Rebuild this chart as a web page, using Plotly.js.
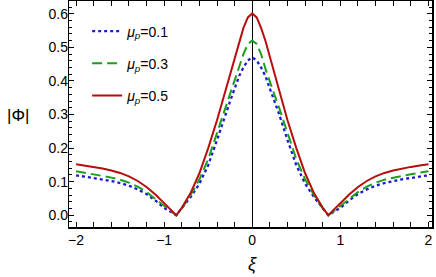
<!DOCTYPE html>
<html>
<head>
<meta charset="utf-8">
<script src="https://cdn.plot.ly/plotly-3.0.1.min.js"></script>
<style>html,body{margin:0;padding:0;background:#fff;}#plot{width:436px;height:277px;}</style>
</head>
<body>
<div id="plot"></div>
<script>
// ξ values (symmetric grid)
const xi = [-2.0,-1.9,-1.8,-1.7,-1.6,-1.5,-1.4,-1.3,-1.2,-1.1,-1.0,-0.9,-0.863,-0.8,-0.7,-0.6,-0.5,-0.4,-0.3,-0.25,-0.2,-0.15,-0.1,-0.05,0,
            0.05,0.1,0.15,0.2,0.25,0.3,0.4,0.5,0.6,0.7,0.8,0.863,0.9,1.0,1.1,1.2,1.3,1.4,1.5,1.6,1.7,1.8,1.9,2.0];
// |Φ| for μp = 0.1
const phi01 = [0.119,0.115,0.111,0.107,0.102,0.096,0.088,0.077,0.063,0.044,0.022,0.006,0,0.021,0.054,0.094,0.149,0.224,0.305,0.341,0.377,0.414,0.440,0.461,0.470,
               0.461,0.440,0.414,0.377,0.341,0.305,0.224,0.149,0.094,0.054,0.021,0,0.006,0.022,0.044,0.063,0.077,0.088,0.096,0.102,0.107,0.111,0.115,0.119];
// |Φ| for μp = 0.3
const phi03 = [0.131,0.127,0.122,0.117,0.112,0.106,0.097,0.085,0.069,0.049,0.027,0.007,0,0.020,0.060,0.107,0.167,0.245,0.324,0.360,0.396,0.436,0.480,0.510,0.520,
               0.510,0.480,0.436,0.396,0.360,0.324,0.245,0.167,0.107,0.060,0.020,0,0.007,0.027,0.049,0.069,0.085,0.097,0.106,0.112,0.117,0.122,0.127,0.131];
// |Φ| for μp = 0.5
const phi05 = [0.152,0.148,0.144,0.139,0.133,0.126,0.116,0.102,0.084,0.062,0.036,0.010,0,0.022,0.066,0.125,0.200,0.283,0.375,0.424,0.473,0.519,0.558,0.589,0.601,
               0.589,0.558,0.519,0.473,0.424,0.375,0.283,0.200,0.125,0.066,0.022,0,0.010,0.036,0.062,0.084,0.102,0.116,0.126,0.133,0.139,0.144,0.148,0.152];
const names = ['<i>μ</i><sub><i>p</i></sub>=0.1','<i>μ</i><sub><i>p</i></sub>=0.3','<i>μ</i><sub><i>p</i></sub>=0.5'];
const xTicks = [-2,-1,0,1,2];
const yTicks = [0,0.1,0.2,0.3,0.4,0.5,0.6];
const yRange = [-0.035,0.638];

const traces = [
  {x: xi, y: phi01, name: names[0], legendgroup:'a', mode:'lines', line:{color:'#1a1ad6', width:2.3, dash:'dot'}},
  {x: xi, y: phi03, name: names[1], legendgroup:'b', mode:'lines', line:{color:'#1aa01a', width:2, dash:'10px,5px'}},
  {x: xi, y: phi05, name: names[2], legendgroup:'c', mode:'lines', line:{color:'#b80d0d', width:2}},
  // invisible copy bound to the label axis so that it is drawn
  {x: xi, y: phi05, yaxis:'y2', mode:'lines', showlegend:false, hoverinfo:'skip', opacity:0, line:{width:0}}
];

const FONT = 'Liberation Sans, Arial, sans-serif';
const axisCommon = {
  showgrid:false, showline:true, linecolor:'#000', linewidth:1.5, mirror:'allticks',
  ticks:'inside', ticklen:5, tickwidth:1, tickcolor:'#000',
  tickfont:{family:FONT, size:14, color:'#000'}
};

const layout = {
  width:436, height:277,
  margin:{l:69, r:4, t:1, b:50},
  paper_bgcolor:'#fff', plot_bgcolor:'#fff',
  showlegend:true,
  legend:{x:0.05, y:0.936, xanchor:'left', yanchor:'top', bgcolor:'rgba(0,0,0,0)',
          font:{family:FONT, size:14, color:'#000'},
          traceorder:'grouped', tracegroupgap:11},
  xaxis: Object.assign({}, axisCommon, {
    range:[-2.08,2.04], tickvals:xTicks,
    minor:{dtick:0.2, ticks:'inside', ticklen:3, tickcolor:'#000'},
    zeroline:true, zerolinecolor:'#000', zerolinewidth:1.5
  }),
  yaxis: Object.assign({}, axisCommon, {
    range:yRange, tickvals:yTicks, showticklabels:false,
    minor:{dtick:0.02, ticks:'inside', ticklen:3, tickcolor:'#000'},
    zeroline:false
  }),
  yaxis2: {
    overlaying:'y', side:'left', anchor:'x', range:yRange, tickvals:yTicks, tickformat:'.1f',
    ticks:'', showline:false, showgrid:false, zeroline:false,
    tickfont:{family:FONT, size:14, color:'#000'}
  },
  annotations:[
    {text:'|Φ|', xref:'paper', yref:'paper', x:-0.14, y:0.495, xanchor:'center', yanchor:'middle',
     showarrow:false, font:{family:FONT, size:17, color:'#000'}},
    {text:'<i>ξ</i>', xref:'x', yref:'paper', x:0, y:-0.165, xanchor:'center', yanchor:'middle',
     showarrow:false, font:{family:FONT, size:18, color:'#000'}}
  ]
};

Plotly.newPlot('plot', traces, layout, {displayModeBar:false, staticPlot:true});
</script>
</body>
</html>
